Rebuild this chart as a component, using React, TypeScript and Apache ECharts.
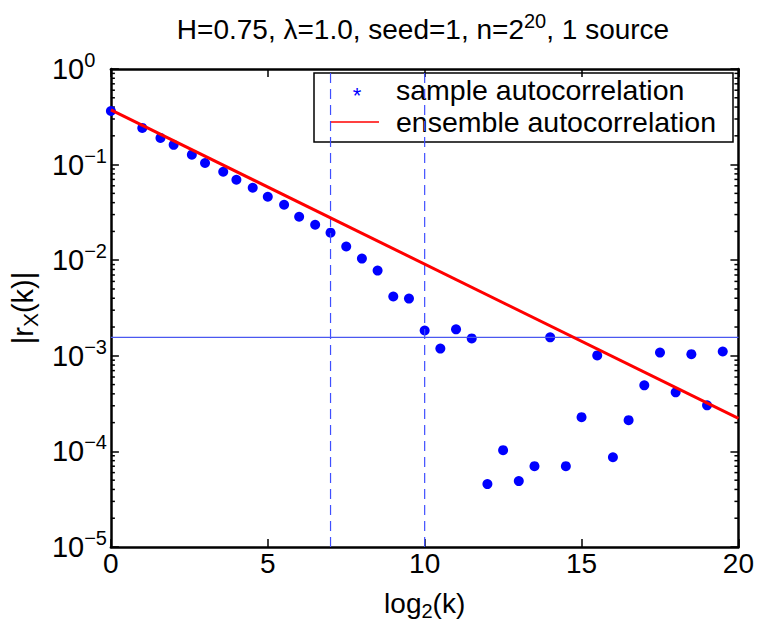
import React, { useEffect, useRef } from "react";
import * as echarts from "echarts";

// log2(k) positions of the sample autocorrelation points
const sampleX = [0, 1, 1.58, 2, 2.58, 3, 3.58, 4, 4.52, 5, 5.52, 6, 6.51, 7, 7.5, 8, 8.5, 9, 9.5, 10, 10.5, 11, 11.5, 12, 12.5, 13, 13.5, 14, 14.5, 15, 15.5, 16, 16.5, 17, 17.5, 18, 18.5, 19, 19.5];
// |r_X(k)| sample values
const sampleY = [0.364, 0.242, 0.19, 0.161, 0.127, 0.104, 0.0841, 0.0694, 0.0573, 0.0461, 0.038, 0.0285, 0.0235, 0.0194, 0.0139, 0.0104, 0.00778, 0.00417, 0.00397, 0.00184, 0.00119, 0.00189, 0.00152, 4.55e-5, 1.03e-4, 4.89e-5, 7.01e-5, 0.00156, 7.01e-5, 2.28e-4, 0.00101, 8.69e-5, 2.12e-4, 4.91e-4, 0.00108, 4.15e-4, 0.00104, 3.03e-4, 0.00111];
// ensemble autocorrelation (straight line in log-log)
const ensembleX = [0, 20];
const ensembleY = [0.373, 2.22e-4];
// reference lines
const vLines = [7, 10];
const hLineY = 1.56e-3;
// axis ticks
const xTicks = [0, 5, 10, 15, 20];
const yDecades = [-5, -4, -3, -2, -1, 0];

const FONT = '"Liberation Sans", Arial, Helvetica, sans-serif';

export default function App() {
  const ref = useRef<HTMLDivElement>(null);
  useEffect(() => {
    if (!ref.current) return;
    const chart = echarts.init(ref.current, null, { renderer: "svg" });
    const minorVals: number[][] = [];
    for (let d = yDecades[0]; d < yDecades[yDecades.length - 1]; d++) {
      for (let m = 2; m <= 9; m++) minorVals.push([0, m * Math.pow(10, d)]);
    }
    const sup = (v: number) => {
      const e = Math.round(Math.log10(v));
      return `{b|10}{e|${e === 0 ? "0" : "\u2212" + -e}}`;
    };
    const axisCommon = {
      axisLine: { show: true, onZero: false, lineStyle: { color: "#000", width: 2.5 } },
      axisTick: { show: true, inside: true, length: 8, lineStyle: { color: "#000", width: 1.5 } },
      splitLine: { show: false },
    };
    const option: any = {
      animation: false,
      backgroundColor: "#fff",
      title: {
        text: "{a|H=0.75, \u03bb=1.0, seed=1, n=2}{s|20}{a|, 1 source}",
        left: 418,
        top: 6,
        textAlign: "center",
        textStyle: {
          rich: {
            a: { fontFamily: FONT, fontSize: 28, fontWeight: "normal", color: "#000" },
            s: { fontFamily: FONT, fontSize: 20, fontWeight: "normal", color: "#000", padding: [0, 0, 16, 0] },
          },
        },
      },
      grid: { left: 97, top: 69, width: 643, height: 478 },
      xAxis: [
        {
          type: "value",
          min: xTicks[0],
          max: xTicks[xTicks.length - 1],
          interval: 5,
          position: "bottom",
          ...axisCommon,
          axisLabel: { color: "#000", fontFamily: FONT, fontSize: 28, margin: 2 },
          name: "{a|log}{s|2}{a|(k)}",
          nameLocation: "middle",
          nameGap: 38,
          nameTextStyle: {
            rich: {
              a: { fontFamily: FONT, fontSize: 28, color: "#000" },
              s: { fontFamily: FONT, fontSize: 20, color: "#000", padding: [16, 0, 0, 0] },
            },
          },
        },
        {
          type: "value",
          min: xTicks[0],
          max: xTicks[xTicks.length - 1],
          interval: 5,
          position: "top",
          ...axisCommon,
          axisLabel: { show: false },
        },
      ],
      yAxis: [
        {
          type: "log",
          logBase: 10,
          min: Math.pow(10, yDecades[0]),
          max: Math.pow(10, yDecades[yDecades.length - 1]),
          position: "left",
          ...axisCommon,
          axisLabel: {
            formatter: (v: number) => sup(v),
            margin: 59,
            align: "left",
            rich: {
              b: { fontFamily: FONT, fontSize: 29, color: "#000" },
              e: { fontFamily: FONT, fontSize: 20, color: "#000", padding: [0, 0, 18, 0] },
            },
          },
          name: "{a||r}{s|X}{a|(k)|}",
          nameLocation: "middle",
          nameGap: 64,
          nameRotate: 90,
          nameTextStyle: {
            rich: {
              a: { fontFamily: FONT, fontSize: 29, color: "#000" },
              s: { fontFamily: FONT, fontSize: 21, color: "#000", padding: [16, 0, 0, 0] },
            },
          },
        },
        {
          type: "log",
          logBase: 10,
          min: Math.pow(10, yDecades[0]),
          max: Math.pow(10, yDecades[yDecades.length - 1]),
          position: "right",
          ...axisCommon,
          axisLabel: { show: false },
        },
      ],
      series: [
        {
          type: "custom",
          name: "minor",
          coordinateSystem: "cartesian2d",
          clip: false,
          silent: true,
          data: minorVals,
          renderItem: (params: any, api: any) => {
            const v = api.value(1);
            const pl = api.coord([xTicks[0], v]);
            const pr = api.coord([xTicks[xTicks.length - 1], v]);
            return {
              type: "group",
              children: [
                { type: "line", shape: { x1: pl[0], y1: pl[1], x2: pl[0] + 4, y2: pl[1] }, style: { stroke: "#000", lineWidth: 1.5 } },
                { type: "line", shape: { x1: pr[0], y1: pr[1], x2: pr[0] - 4, y2: pr[1] }, style: { stroke: "#000", lineWidth: 1.5 } },
              ],
            };
          },
        },
        ...vLines.map((x) => ({
          type: "line",
          name: "v" + x,
          data: [[x, Math.pow(10, yDecades[0])], [x, Math.pow(10, yDecades[yDecades.length - 1])]],
          symbol: "none",
          silent: true,
          lineStyle: { color: "#3f4fff", width: 1.2, type: [10, 6] },
        })),
        {
          type: "line",
          name: "threshold",
          data: [[xTicks[0], hLineY], [xTicks[xTicks.length - 1], hLineY]],
          symbol: "none",
          silent: true,
          lineStyle: { color: "#4a58f0", width: 1.2 },
        },
        {
          type: "line",
          name: "ensemble autocorrelation",
          data: ensembleX.map((x, i) => [x, ensembleY[i]]),
          symbol: "none",
          lineStyle: { color: "#ff0000", width: 3 },
        },
        {
          type: "scatter",
          name: "sample autocorrelation",
          data: sampleX.map((x, i) => [x, sampleY[i]]),
          symbol: "circle",
          symbolSize: 10,
          itemStyle: { color: "#0000ff", opacity: 1 },
        },
      ],
      graphic: [
        {
          type: "group",
          z: 100,
          children: [
            { type: "rect", shape: { x: 314, y: 73, width: 419, height: 69 }, style: { fill: "#fff", stroke: "#000", lineWidth: 1.5 } },
            { type: "text", x: 357, y: 95, style: { text: "*", fill: "#0000ff", font: `22px ${FONT}`, align: "center", verticalAlign: "middle" } },
            { type: "text", x: 396, y: 90, style: { text: "sample autocorrelation", fill: "#000", font: `28.5px ${FONT}`, verticalAlign: "middle" } },
            { type: "line", shape: { x1: 331, y1: 122, x2: 379, y2: 122 }, style: { stroke: "#ff0000", lineWidth: 1.5 } },
            { type: "text", x: 396, y: 122, style: { text: "ensemble autocorrelation", fill: "#000", font: `28.5px ${FONT}`, verticalAlign: "middle" } },
          ],
        },
      ],
    };
    chart.setOption(option);
    return () => chart.dispose();
  }, []);
  return <div ref={ref} style={{ position: "absolute", left: 0, top: 0, width: 757, height: 635 }} />;
}
